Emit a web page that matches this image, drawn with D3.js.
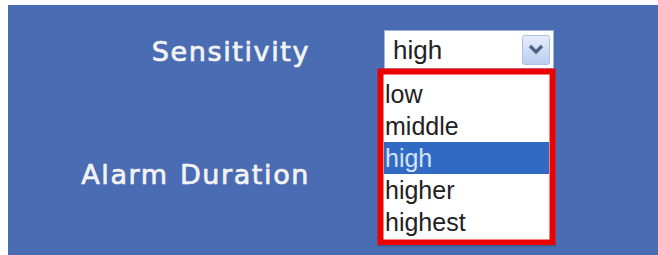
<!DOCTYPE html>
<html>
<head>
<meta charset="utf-8">
<script src="https://cdn.jsdelivr.net/npm/d3@7"></script>
<style>
  html, body { margin: 0; padding: 0; background: #fff; }
</style>
</head>
<body>
<div id="panel"></div>
<script>
// form labels and dropdown options
var labels = ["Sensitivity", "Alarm Duration"];
var options = ["low", "middle", "high", "higher", "highest"];
var selected = "high";

var width = 658, height = 255;
var svg = d3.select("#panel").append("svg")
  .attr("width", width)
  .attr("height", height);

// blue background
svg.append("rect")
  .attr("x", 8).attr("y", 5)
  .attr("width", width - 8).attr("height", height - 5)
  .attr("fill", "#4a6cb3");

// labels on the left, right aligned (y = baseline)
var labelY = d3.scalePoint().domain(labels).range([61, 184]);
svg.selectAll(".label")
  .data(labels)
  .enter().append("text")
    .attr("class", "label")
    .attr("x", 310)
    .attr("y", function(d) { return labelY(d); })
    .attr("text-anchor", "end")
    .attr("fill", "#f3f3f3")
    .attr("stroke", "#f3f3f3")
    .attr("stroke-width", 0.7)
    .style("font-family", "DejaVu Sans, Verdana, sans-serif")
    .style("font-size", "27px")
    .style("letter-spacing", "1.6px")
    .style("word-spacing", "1px")
    .text(function(d) { return d; });

// select box
var sel = svg.append("g");
sel.append("rect")
  .attr("x", 384.5).attr("y", 30.5)
  .attr("width", 169).attr("height", 38)
  .attr("fill", "#fff")
  .attr("stroke", "#9bb8dc");
sel.append("text")
  .attr("x", 393).attr("y", 50)
  .attr("dy", "0.35em")
  .attr("fill", "#222")
  .style("font-family", "Liberation Sans, Arial, sans-serif")
  .style("font-size", "26px")
  .text(selected);

var grad = svg.append("defs").append("linearGradient")
  .attr("id", "btn").attr("x1", 0).attr("y1", 0).attr("x2", 0).attr("y2", 1);
grad.append("stop").attr("offset", "0%").attr("stop-color", "#e6eefc");
grad.append("stop").attr("offset", "100%").attr("stop-color", "#b9cdf0");
sel.append("rect")
  .attr("x", 522.5).attr("y", 35.5)
  .attr("width", 27).attr("height", 29)
  .attr("rx", 2)
  .attr("fill", "url(#btn)")
  .attr("stroke", "#aac0e6");
sel.append("path")
  .attr("d", "M530,46 L536,52 L542,46")
  .attr("fill", "none")
  .attr("stroke", "#4d6185")
  .attr("stroke-width", 3.2);

// drop-down list
var listTop = 78, itemH = 32;
var y = d3.scaleBand()
  .domain(options)
  .range([listTop, listTop + itemH * options.length]);

svg.append("rect")
  .attr("x", 380.5).attr("y", 71.5)
  .attr("width", 172).attr("height", 171)
  .attr("fill", "#fff")
  .attr("stroke", "#ee0000")
  .attr("stroke-width", 6);
// soft shadow under red frame
svg.append("line")
  .attr("x1", 378).attr("x2", 556)
  .attr("y1", 246).attr("y2", 246)
  .attr("stroke", "#3f5d9a").attr("stroke-width", 2);

var items = svg.selectAll(".item")
  .data(options)
  .enter().append("g")
    .attr("class", "item")
    .attr("transform", function(d) { return "translate(0," + y(d) + ")"; });

items.append("rect")
  .attr("x", 384).attr("width", 165)
  .attr("height", y.bandwidth())
  .attr("fill", function(d) { return d === selected ? "#316ac5" : "#fff"; });

items.append("text")
  .attr("x", 385)
  .attr("y", y.bandwidth() / 2)
  .attr("dy", "0.35em")
  .attr("fill", function(d) { return d === selected ? "#d6e4f7" : "#222"; })
  .style("font-family", "Liberation Sans, Arial, sans-serif")
  .style("font-size", "25px")
  .text(function(d) { return d; });
</script>
</body>
</html>
